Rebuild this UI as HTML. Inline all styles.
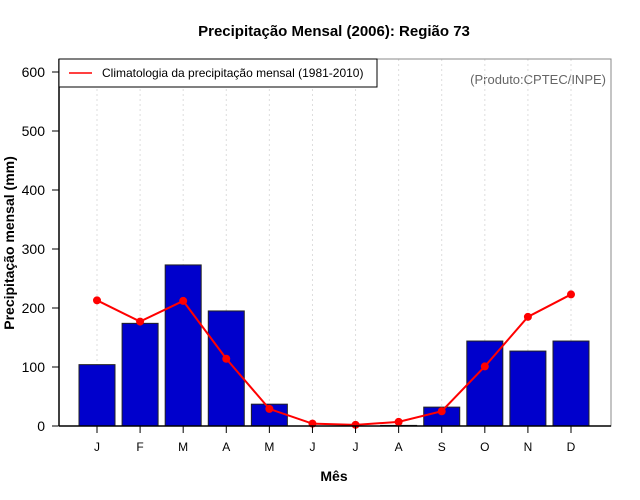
<!DOCTYPE html>
<html><head><meta charset="utf-8"><style>
body{margin:0;background:#fff}
svg{display:block;font-family:"Liberation Sans",sans-serif}
</style></head><body>
<svg id="c" width="640" height="500">
<text x="334" y="36" text-anchor="middle" font-size="15" font-weight="bold">Precipitação Mensal (2006): Região 73</text>
<text x="334" y="481" text-anchor="middle" font-size="14" font-weight="bold">Mês</text>
<text transform="translate(14,243) rotate(-90)" text-anchor="middle" font-size="14" font-weight="bold">Precipitação mensal (mm)</text>
<text x="606" y="84" text-anchor="end" font-size="13" fill="#666">(Produto:CPTEC/INPE)</text>
<g id="grid"></g><g id="bars"></g><g id="line"></g><g id="axes"></g>
<rect x="59" y="59" width="318" height="28" fill="#fff" stroke="#000" stroke-width="1"/>
<line x1="69" y1="73" x2="92" y2="73" stroke="red" stroke-width="1.5"/>
<text x="102" y="77" font-size="12">Climatologia da precipitação mensal (1981-2010)</text>
</svg>
<script>
const months=["J","F","M","A","M","J","J","A","S","O","N","D"];
const observed=[104,174,273,195,37,0,0,1,32,144,127,144];
const climatology=[213,177,212,114,29,4,2,7,25,101,185,223];
const yTicks=[0,100,200,300,400,500,600];
const NS="http://www.w3.org/2000/svg";
const X=i=>97+i*(571-97)/11;
const Y=v=>426-v*(426-72)/600;
function mk(t,a,p){const e=document.createElementNS(NS,t);for(const k in a)e.setAttribute(k,a[k]);p.appendChild(e);return e;}
const g=document.getElementById('grid'),b=document.getElementById('bars'),l=document.getElementById('line'),ax=document.getElementById('axes');
months.forEach((m,i)=>{
  const gl=mk('line',{x1:X(i),x2:X(i),y1:59,y2:426,stroke:'#ddd','stroke-dasharray':'2,3'},g);
  
  
  const r=mk('rect',{x:X(i)-18,y:Y(observed[i]),width:36,height:Y(0)-Y(observed[i]),fill:'#0000cc',stroke:'#222','stroke-width':1},b);
  
  
  const tk=mk('line',{x1:X(i),x2:X(i),y1:426,y2:433,stroke:'#000'},ax);
  
  
  const t=mk('text',{x:X(i),y:451,'text-anchor':'middle','font-size':12},ax);t.textContent=m;
  
  
});
const pl=mk('polyline',{points:climatology.map((v,i)=>X(i)+','+Y(v)).join(' '),fill:'none',stroke:'red','stroke-width':2},l);


climatology.forEach((v,i)=>{
  const c=mk('circle',{cx:X(i),cy:Y(v),r:4,fill:'red'},l);
  
  
});
yTicks.forEach(v=>{
  const tk=mk('line',{x1:52,x2:59,y1:Y(v),y2:Y(v),stroke:'#000'},ax);
  
  
  const t=mk('text',{x:45,y:Y(v)+5,'text-anchor':'end','font-size':14},ax);t.textContent=v;
  
  
});
const fr=mk('rect',{x:59,y:59,width:552,height:367,fill:'none',stroke:'#888'},ax);


const la=mk('line',{x1:59,x2:59,y1:59,y2:426,stroke:'#000','stroke-width':1.5},ax);


const ba=mk('line',{x1:59,x2:611,y1:426,y2:426,stroke:'#000','stroke-width':1.5},ax);


</script>
</body></html>
